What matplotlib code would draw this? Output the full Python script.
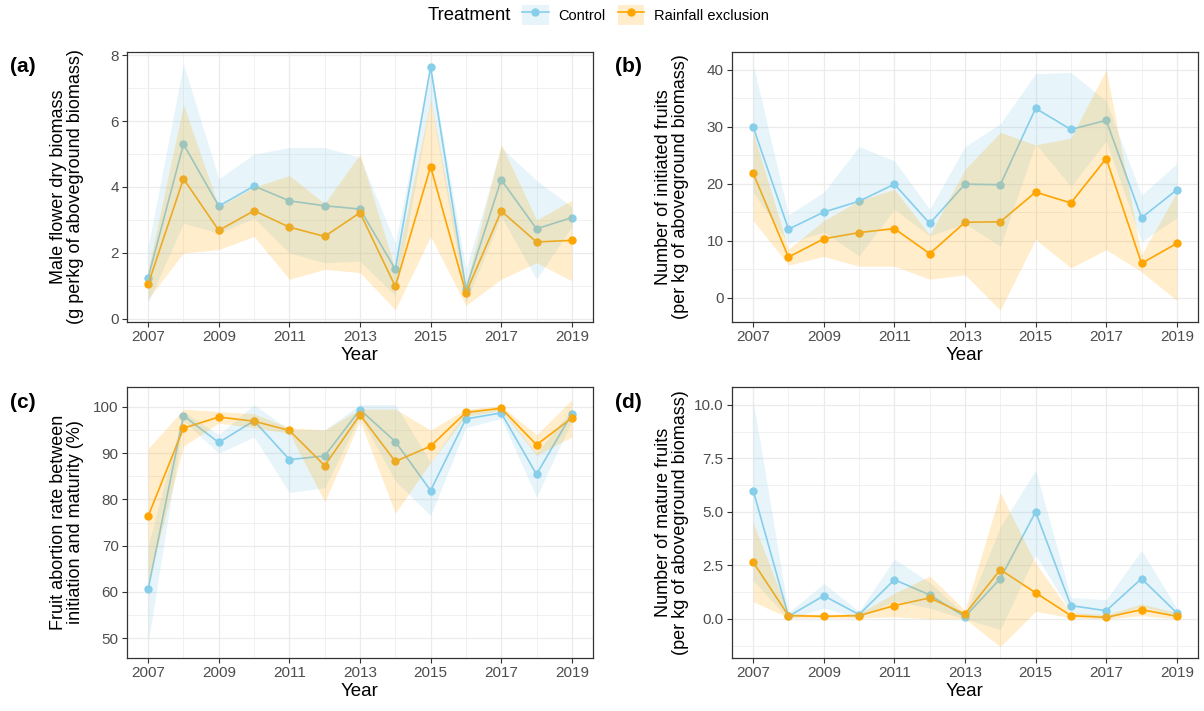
import numpy as np
import matplotlib.pyplot as plt
from matplotlib.lines import Line2D
from matplotlib.patches import Patch
from matplotlib.offsetbox import HPacker

plt.rcParams['font.family'] = ['Liberation Sans', 'DejaVu Sans']

years = np.arange(2007, 2020)

# (a) male flower dry biomass
a_ctrl = [1.25, 5.3, 3.42, 4.03, 3.58, 3.43, 3.33, 1.5, 7.65, 0.9, 4.22, 2.73, 3.07]
a_ctrl_lo = [0.5, 2.9, 2.6, 3.05, 2.0, 1.7, 1.75, 0.7, 6.6, 0.5, 3.1, 1.2, 2.8]
a_ctrl_hi = [2.2, 7.73, 4.25, 5.0, 5.2, 5.2, 4.9, 2.3, 7.7, 1.5, 5.2, 4.2, 3.4]
a_rain = [1.05, 4.25, 2.68, 3.28, 2.78, 2.5, 3.22, 0.98, 4.62, 0.78, 3.27, 2.33, 2.38]
a_rain_lo = [0.6, 2.0, 2.1, 2.5, 1.2, 1.5, 1.4, 0.27, 2.5, 0.4, 1.2, 1.7, 1.15]
a_rain_hi = [1.5, 6.5, 3.4, 4.0, 4.35, 3.5, 5.0, 1.5, 6.65, 1.0, 5.3, 3.0, 3.6]

# (b) initiated fruits
b_ctrl = [29.9, 12.0, 15.0, 16.9, 19.9, 13.0, 19.9, 19.8, 33.2, 29.5, 31.1, 14.0, 18.9]
b_ctrl_lo = [18.5, 9.5, 11.5, 7.3, 15.5, 10.8, 13.0, 9.0, 27.0, 19.5, 27.5, 9.8, 14.0]
b_ctrl_hi = [41.0, 14.5, 18.5, 26.5, 24.0, 15.5, 26.5, 30.5, 39.3, 39.5, 34.5, 18.0, 23.5]
b_rain = [21.8, 7.1, 10.3, 11.4, 12.1, 7.7, 13.2, 13.3, 18.5, 16.6, 24.4, 6.0, 9.5]
b_rain_lo = [13.5, 5.7, 7.2, 5.5, 5.5, 3.2, 4.0, -2.2, 10.2, 5.2, 8.4, 4.5, -0.5]
b_rain_hi = [29.0, 8.5, 13.5, 17.0, 19.0, 11.0, 22.5, 29.0, 26.8, 28.0, 40.0, 7.5, 18.5]

# (c) fruit abortion rate
c_ctrl = [60.6, 98.1, 92.3, 97.0, 88.6, 89.4, 99.4, 92.5, 81.9, 97.4, 98.7, 85.4, 98.5]
c_ctrl_lo = [49.0, 97.0, 90.0, 93.5, 81.5, 82.5, 98.0, 84.0, 76.5, 95.5, 97.5, 80.5, 97.0]
c_ctrl_hi = [70.0, 99.0, 94.0, 100.5, 95.0, 95.0, 100.5, 100.5, 88.0, 99.0, 99.5, 90.0, 99.5]
c_rain = [76.4, 95.4, 97.8, 96.9, 94.9, 87.3, 98.3, 88.2, 91.5, 98.8, 99.7, 91.8, 97.6]
c_rain_lo = [62.0, 91.5, 96.5, 95.5, 94.3, 79.5, 97.0, 77.0, 88.0, 98.0, 99.2, 89.5, 93.5]
c_rain_hi = [91.0, 99.5, 99.0, 98.5, 95.5, 95.0, 99.5, 99.5, 95.0, 99.5, 100.2, 94.0, 101.5]

# (d) mature fruits
d_ctrl = [6.0, 0.12, 1.08, 0.2, 1.83, 1.12, 0.1, 1.88, 5.0, 0.62, 0.38, 1.88, 0.28]
d_ctrl_lo = [1.8, 0.0, 0.5, 0.05, 0.85, 0.5, 0.0, -0.5, 3.0, 0.3, 0.0, 0.6, 0.1]
d_ctrl_hi = [10.2, 0.3, 1.65, 0.35, 2.8, 1.7, 0.2, 4.3, 6.95, 1.0, 0.9, 3.2, 0.5]
d_rain = [2.65, 0.15, 0.12, 0.15, 0.62, 0.98, 0.22, 2.3, 1.22, 0.15, 0.07, 0.43, 0.12]
d_rain_lo = [0.8, 0.05, 0.05, 0.05, 0.1, 0.0, 0.0, -1.3, 0.35, 0.05, 0.0, 0.15, 0.0]
d_rain_hi = [4.5, 0.25, 0.2, 0.25, 1.2, 2.0, 0.4, 5.9, 2.6, 0.3, 0.2, 0.7, 0.3]

col_ctrl = '#87CEEB'
col_rain = '#FFA500'

panels = [
    ('(a)', 'Male flower dry biomass\n(g perkg of aboveground biomass)',
     a_ctrl, a_ctrl_lo, a_ctrl_hi, a_rain, a_rain_lo, a_rain_hi,
     (-0.1, 8.1), np.arange(0, 9, 2), np.arange(1, 9, 2), ['0', '2', '4', '6', '8']),
    ('(b)', 'Number of initiated fruits\n(per kg of aboveground biomass)',
     b_ctrl, b_ctrl_lo, b_ctrl_hi, b_rain, b_rain_lo, b_rain_hi,
     (-4.3, 43.1), np.arange(0, 41, 10), np.arange(-5, 45, 10), ['0', '10', '20', '30', '40']),
    ('(c)', 'Fruit abortion rate between\ninitiation and maturity (%)',
     c_ctrl, c_ctrl_lo, c_ctrl_hi, c_rain, c_rain_lo, c_rain_hi,
     (45.7, 104.3), np.arange(50, 101, 10), np.arange(45, 105, 10), ['50', '60', '70', '80', '90', '100']),
    ('(d)', 'Number of mature fruits\n(per kg of aboveground biomass)',
     d_ctrl, d_ctrl_lo, d_ctrl_hi, d_rain, d_rain_lo, d_rain_hi,
     (-1.83, 10.84), np.arange(0, 10.1, 2.5), np.arange(-1.25, 11, 2.5), ['0.0', '2.5', '5.0', '7.5', '10.0']),
]

positions = [
    (127, 52, 593, 322),
    (732, 52, 1198, 322),
    (127, 387, 593, 658),
    (732, 387, 1198, 658),
]

W, H = 1204, 711
fig = plt.figure(figsize=(W / 100, H / 100), dpi=100)

for (tag, ylab, yc, yc_lo, yc_hi, yr, yr_lo, yr_hi, ylim, yt, ymin, ytl), (x0, y0, x1, y1) in zip(panels, positions):
    ax = fig.add_axes([x0 / W, 1 - y1 / H, (x1 - x0) / W, (y1 - y0) / H])
    # grid
    for v in years:
        lw = 0.9 if v % 2 == 1 else 0.5
        ax.axvline(v, color='#EBEBEB', lw=lw, zorder=0)
    for v in yt:
        ax.axhline(v, color='#EBEBEB', lw=0.9, zorder=0)
    for v in ymin:
        ax.axhline(v, color='#EBEBEB', lw=0.5, zorder=0)

    ax.plot(years, yc, color=col_ctrl, lw=1.2, marker='o', ms=5, zorder=2)
    ax.plot(years, yr, color=col_rain, lw=1.2, marker='o', ms=5, zorder=2)
    ax.fill_between(years, yc_lo, yc_hi, color=col_ctrl, alpha=0.2, lw=0, zorder=3)
    ax.fill_between(years, yr_lo, yr_hi, color=col_rain, alpha=0.2, lw=0, zorder=3)

    ax.set_xlim(2006.4, 2019.6)
    ax.set_ylim(*ylim)
    ax.set_xticks(np.arange(2007, 2020, 2))
    ax.set_yticks(yt)
    ax.set_yticklabels(ytl)
    ax.tick_params(colors='#333333', labelcolor='#4D4D4D', labelsize=11, length=3.5, width=0.8, pad=2.5)
    for s in ax.spines.values():
        s.set_color('#333333')
        s.set_linewidth(0.9)
    ax.set_xlabel('Year', fontsize=13.5, labelpad=2)
    ax.set_ylabel(ylab, fontsize=13, linespacing=1.05, va='center')
    ax.yaxis.set_label_coords(-60 / (x1 - x0), 0.5)
    fig.text((x0 - 117) / W, 1 - (y0 + 15) / H, tag, fontsize=15, fontweight='bold', va='center', ha='left')

# legend at top
handles = [
    (Patch(facecolor=col_ctrl, alpha=0.2, edgecolor='none'),
     Line2D([], [], color=col_ctrl, lw=1.2, marker='o', ms=5)),
    (Patch(facecolor=col_rain, alpha=0.2, edgecolor='none'),
     Line2D([], [], color=col_rain, lw=1.2, marker='o', ms=5)),
]
leg = fig.legend(handles, ['Control', 'Rainfall exclusion'], title='Treatment', ncol=2,
                 loc='center', bbox_to_anchor=(0.497, 1 - 15 / H), frameon=False,
                 fontsize=10.5, title_fontsize=13.3, handlelength=1.8, handleheight=1.7,
                 columnspacing=0.8, handletextpad=0.7, borderpad=0)
# put the title to the left of the entries, like ggplot
children = leg._legend_box.get_children()
leg._legend_box = HPacker(pad=0, sep=8, align='center', children=children)
leg._legend_box.set_figure(fig)
leg._legend_box.set_offset(leg._findoffset)

fig.savefig('out.png', dpi=100)
